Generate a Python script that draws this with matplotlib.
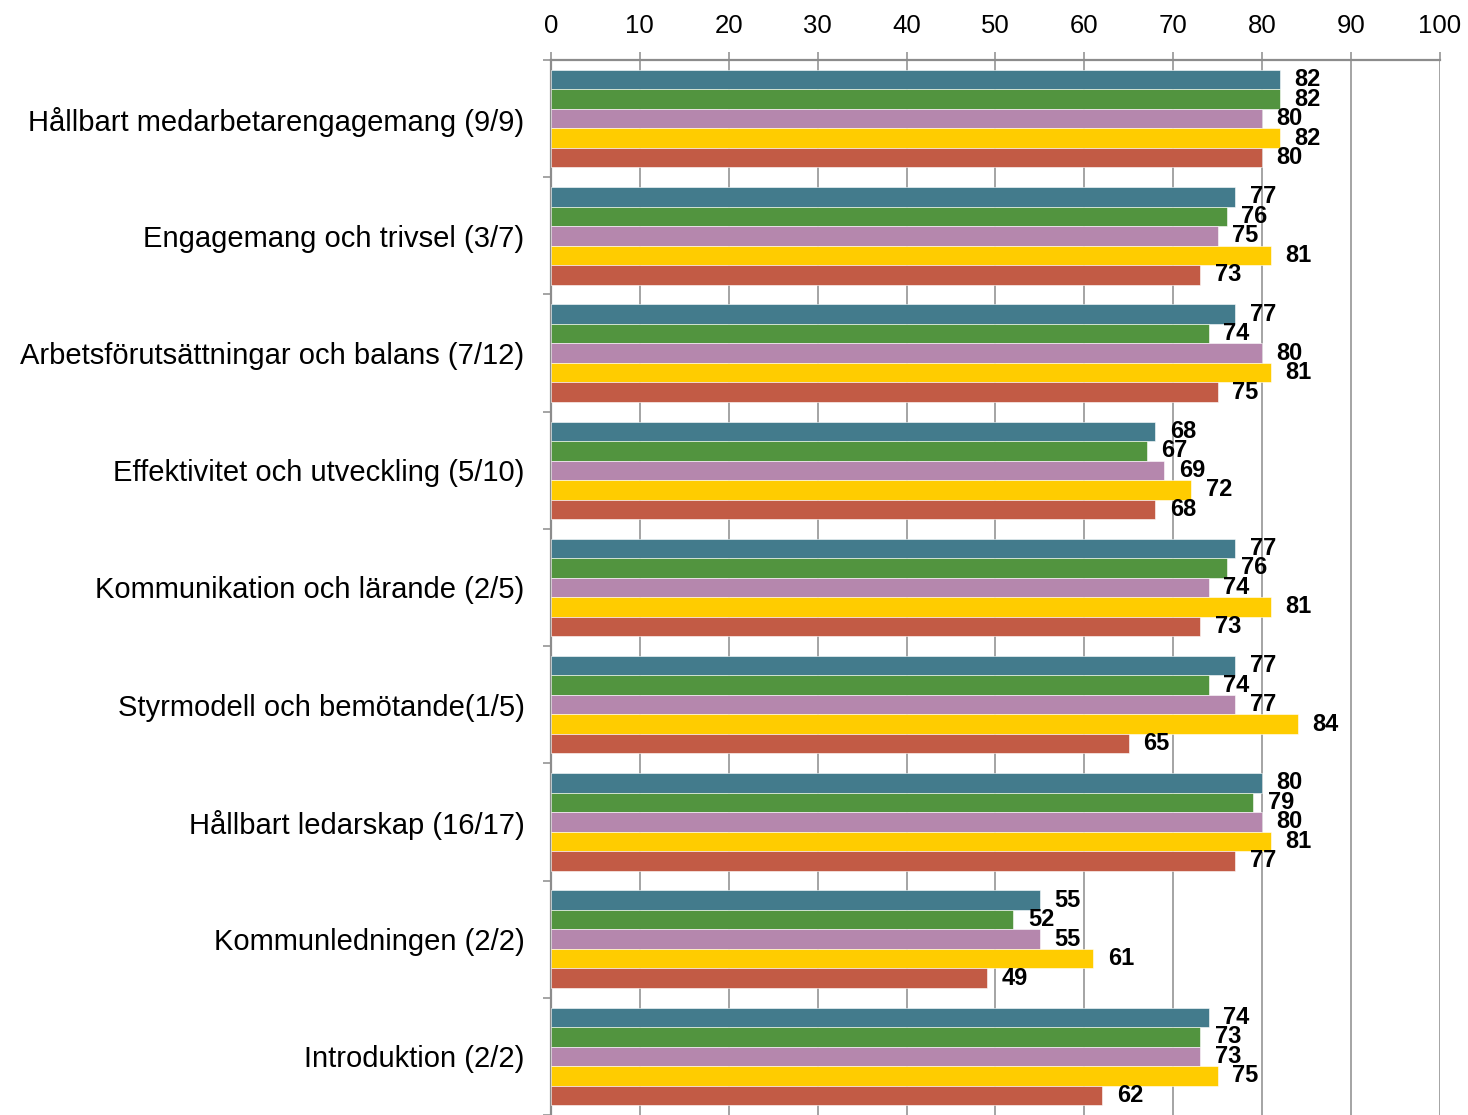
#!/usr/bin/env python3

# +
# import(s)
# -
import numpy as np

import matplotlib as mpl
import matplotlib.pyplot as plt

mpl.use('Agg')

# +
# data
# -
kategorier = [
    "Hållbart medarbetarengagemang (9/9)",
    "Engagemang och trivsel (3/7)",
    "Arbetsförutsättningar och balans (7/12)",
    "Effektivitet och utveckling (5/10)",
    "Kommunikation och lärande (2/5)",
    "Styrmodell och bemötande(1/5)",
    "Hållbart ledarskap (16/17)",
    "Kommunledningen (2/2)",
    "Introduktion (2/2)",
]
serie1 = [82, 77, 77, 68, 77, 77, 80, 55, 74]
serie2 = [82, 76, 74, 67, 76, 74, 79, 52, 73]
serie3 = [80, 75, 80, 69, 74, 77, 80, 55, 73]
serie4 = [82, 81, 81, 72, 81, 84, 81, 61, 75]
serie5 = [80, 73, 75, 68, 73, 65, 77, 49, 62]
x_ticks = [0, 10, 20, 30, 40, 50, 60, 70, 80, 90, 100]

serier = [serie1, serie2, serie3, serie4, serie5]
farger = ['#437B8C', '#52943F', '#B587AD', '#FFCC00', '#C25B45']

plt.rcParams['font.family'] = ['Liberation Sans', 'DejaVu Sans']
GRID = '#8C8C8C'

# +
# plot
# -
fig = plt.figure(figsize=(14.68, 11.15), dpi=100)
ax = fig.add_axes([0.3753, 0.0, 0.9809 - 0.3753, 0.9462])

n = len(kategorier)
h = 0.1664
mitt = np.arange(n) + 0.5
for i, (vals, col) in enumerate(zip(serier, farger)):
    y = mitt + (i - 2) * h
    ax.barh(y, vals, height=h, color=col, edgecolor='white', linewidth=0.4, zorder=3)
    for yy, v in zip(y, vals):
        ax.annotate(f"{v}", xy=(v, yy), xytext=(10.5, 0), textcoords='offset points',
                    ha='left', va='center', fontsize=17, fontweight='bold',
                    color='black', zorder=4)

ax.set_xlim(0, 100)
ax.set_ylim(n, 0)

# x axis on top
ax.xaxis.tick_top()
ax.set_xticks(x_ticks)
ax.set_xticklabels([str(t) for t in x_ticks], fontsize=18.5)
ax.tick_params(axis='x', direction='out', length=6, width=1.1, color=GRID, pad=10)
ax.grid(axis='x', color=GRID, linewidth=1.1, zorder=0)
ax.set_axisbelow(True)

# category labels centred, tick marks on group boundaries
ax.set_yticks(np.arange(n + 1))
ax.set_yticklabels([])
ax.set_yticks(mitt, minor=True)
ax.set_yticklabels(kategorier, minor=True, fontsize=21)
ax.tick_params(axis='y', which='major', direction='out', length=6, width=1.1, color=GRID)
ax.tick_params(axis='y', which='minor', length=0, pad=19)

for s in ['right', 'bottom']:
    ax.spines[s].set_visible(False)
for s in ['left', 'top']:
    ax.spines[s].set_color(GRID)
    ax.spines[s].set_linewidth(1.6)

plt.savefig('out.png', dpi=100)
